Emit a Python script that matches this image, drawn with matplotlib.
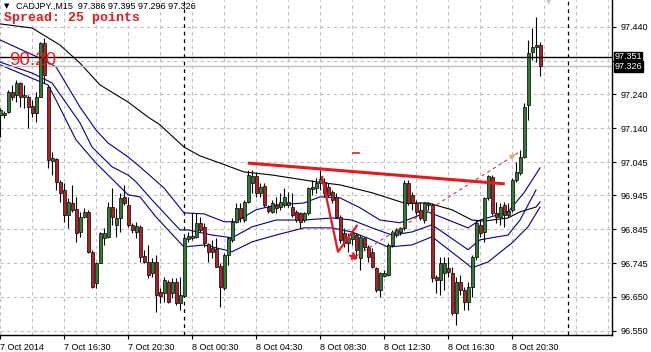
import matplotlib
matplotlib.use("Agg")
import matplotlib.pyplot as plt
from matplotlib import transforms

# CADJPY M15 candles, bar 0 = 7 Oct 2014 12:30
opens = [97.182, 97.188, 97.191, 97.249, 97.241, 97.276, 97.235, 97.235, 97.208, 97.188,
         97.235, 97.393, 97.264, 97.047, 97.053, 96.986, 96.962, 96.889, 96.924, 96.907,
         96.839, 96.883, 96.898, 96.781, 96.690, 96.748, 96.822, 96.825, 96.912, 96.860,
         96.880, 96.942, 96.918, 96.860, 96.839, 96.854, 96.769, 96.751, 96.719, 96.751,
         96.663, 96.660, 96.693, 96.660, 96.693, 96.631, 96.652, 96.819, 96.822, 96.825,
         96.866, 96.854, 96.804, 96.792, 96.789, 96.740, 96.675, 96.772, 96.816, 96.869,
         96.910, 96.874, 96.927, 96.983, 97.003, 96.954, 96.974, 96.912, 96.898, 96.918,
         96.912, 96.918, 96.918, 96.912, 96.898, 96.895, 96.874, 96.895, 96.965, 96.968,
         96.983, 96.986, 96.971, 96.956, 96.942, 96.883, 96.836, 96.807, 96.819, 96.830,
         96.763, 96.822, 96.795, 96.781, 96.734, 96.669, 96.710, 96.713, 96.801, 96.830,
         96.839, 96.851, 96.983, 96.948, 96.924, 96.904, 96.874, 96.918, 96.918, 96.707,
         96.699, 96.719, 96.734, 96.719, 96.602, 96.693, 96.669, 96.634, 96.678, 96.766,
         96.860, 96.839, 96.939, 97.000, 96.895, 96.883, 96.918, 96.889, 96.904, 96.992,
         97.012, 97.059, 97.211, 97.367, 97.381, 97.386]
highs = [97.203, 97.194, 97.255, 97.270, 97.285, 97.279, 97.270, 97.241, 97.226, 97.249,
         97.396, 97.408, 97.270, 97.074, 97.056, 96.992, 96.983, 96.939, 96.977, 96.942,
         96.898, 96.910, 96.904, 96.787, 96.751, 96.839, 96.851, 96.927, 96.968, 96.910,
         96.954, 96.977, 96.942, 96.866, 96.869, 96.860, 96.787, 96.801, 96.763, 96.772,
         96.675, 96.707, 96.699, 96.704, 96.704, 96.707, 96.825, 96.839, 96.895, 96.895,
         96.883, 96.866, 96.807, 96.816, 96.822, 96.748, 96.778, 96.825, 96.880, 96.924,
         96.924, 96.933, 97.021, 97.021, 97.015, 96.983, 96.983, 96.918, 96.933, 96.942,
         96.954, 96.968, 96.956, 96.954, 96.904, 96.898, 96.898, 96.971, 96.992, 96.998,
         97.021, 96.998, 96.983, 96.962, 96.954, 96.889, 96.851, 96.836, 96.845, 96.836,
         96.830, 96.825, 96.801, 96.792, 96.737, 96.722, 96.728, 96.807, 96.845, 96.851,
         96.854, 96.992, 96.992, 96.956, 96.933, 96.927, 96.927, 96.927, 96.924, 96.713,
         96.766, 96.766, 96.766, 96.737, 96.707, 96.713, 96.678, 96.693, 96.772, 96.874,
         96.874, 96.942, 97.006, 97.006, 96.927, 96.924, 96.927, 96.924, 96.998, 97.044,
         97.080, 97.217, 97.402, 97.437, 97.469, 97.395]
lows = [97.118, 97.173, 97.188, 97.226, 97.220, 97.205, 97.203, 97.144, 97.176, 97.162,
        97.235, 97.276, 97.027, 97.006, 96.962, 96.927, 96.869, 96.851, 96.898, 96.810,
        96.825, 96.880, 96.778, 96.675, 96.675, 96.748, 96.801, 96.822, 96.860, 96.825,
        96.839, 96.918, 96.854, 96.836, 96.822, 96.751, 96.748, 96.704, 96.707, 96.605,
        96.631, 96.634, 96.631, 96.646, 96.625, 96.611, 96.649, 96.810, 96.816, 96.822,
        96.839, 96.795, 96.751, 96.763, 96.737, 96.619, 96.669, 96.743, 96.810, 96.866,
        96.869, 96.869, 96.924, 96.954, 96.942, 96.942, 96.912, 96.895, 96.895, 96.895,
        96.904, 96.912, 96.912, 96.883, 96.869, 96.851, 96.869, 96.889, 96.948, 96.954,
        96.962, 96.942, 96.942, 96.924, 96.880, 96.807, 96.795, 96.781, 96.801, 96.763,
        96.728, 96.787, 96.751, 96.734, 96.663, 96.649, 96.707, 96.710, 96.795, 96.825,
        96.830, 96.845, 96.918, 96.904, 96.889, 96.874, 96.866, 96.904, 96.693, 96.660,
        96.655, 96.669, 96.707, 96.596, 96.567, 96.655, 96.611, 96.611, 96.649, 96.757,
        96.825, 96.810, 96.933, 96.889, 96.866, 96.860, 96.854, 96.883, 96.898, 96.986,
        97.006, 97.056, 97.167, 97.343, 97.337, 97.296]
closes = [97.197, 97.182, 97.249, 97.235, 97.276, 97.235, 97.241, 97.205, 97.188, 97.235,
          97.393, 97.299, 97.050, 97.056, 96.986, 96.954, 96.889, 96.927, 96.904, 96.836,
          96.883, 96.898, 96.781, 96.678, 96.748, 96.836, 96.836, 96.912, 96.883, 96.880,
          96.939, 96.924, 96.860, 96.845, 96.857, 96.766, 96.751, 96.713, 96.751, 96.655,
          96.652, 96.699, 96.634, 96.693, 96.631, 96.655, 96.822, 96.827, 96.827, 96.866,
          96.845, 96.807, 96.781, 96.781, 96.737, 96.678, 96.772, 96.822, 96.869, 96.910,
          96.880, 96.927, 97.006, 97.003, 96.954, 96.971, 96.918, 96.901, 96.924, 96.910,
          96.927, 96.942, 96.927, 96.889, 96.874, 96.869, 96.895, 96.968, 96.971, 96.983,
          96.995, 96.954, 96.948, 96.933, 96.883, 96.816, 96.807, 96.822, 96.836, 96.787,
          96.825, 96.795, 96.766, 96.737, 96.669, 96.719, 96.719, 96.801, 96.839, 96.845,
          96.851, 96.983, 96.924, 96.924, 96.898, 96.880, 96.924, 96.924, 96.704, 96.699,
          96.748, 96.748, 96.722, 96.602, 96.693, 96.669, 96.634, 96.678, 96.766, 96.866,
          96.836, 96.939, 97.003, 96.895, 96.883, 96.912, 96.889, 96.901, 96.992, 97.015,
          97.059, 97.205, 97.364, 97.381, 97.386, 97.326]

# indicator lines, read as (bar, price)
ma_bars = [0, 8, 15, 20, 25, 32, 37, 40, 46, 50, 55, 61, 68, 79, 85, 93, 101, 107, 113, 118, 121, 127, 130, 134, 135]
ma_vals = [97.449, 97.437, 97.387, 97.334, 97.270, 97.220, 97.176, 97.153, 97.088, 97.062, 97.041, 97.015, 97.006,
           96.986, 96.977, 96.954, 96.924, 96.924, 96.904, 96.874, 96.871, 96.880, 96.898, 96.912, 96.927]
up_bars = [0, 11, 14, 20, 24, 27, 32, 35, 41, 46, 51, 56, 59, 64, 69, 76, 80, 85, 90, 95, 100, 107, 117, 120, 127, 131, 135]
up_vals = [97.402, 97.343, 97.323, 97.205, 97.138, 97.100, 97.059, 97.030, 96.968, 96.895, 96.892, 96.869, 96.869,
           96.904, 96.918, 96.924, 96.942, 96.939, 96.910, 96.874, 96.866, 96.898, 96.851, 96.874, 96.898, 96.954, 97.027]
mid_bars = [0, 8, 13, 20, 23, 28, 32, 34, 38, 45, 47, 53, 58, 63, 69, 76, 83, 88, 93, 98, 103, 108, 117, 120, 127, 130, 134]
mid_vals = [97.337, 97.305, 97.276, 97.159, 97.088, 97.030, 97.006, 96.986, 96.933, 96.845, 96.845, 96.830, 96.822,
            96.854, 96.874, 96.874, 96.880, 96.874, 96.851, 96.830, 96.839, 96.860, 96.787, 96.816, 96.830, 96.874, 96.962]
lo_bars = [0, 12, 14, 19, 24, 29, 32, 35, 39, 46, 51, 56, 58, 63, 69, 76, 83, 88, 93, 97, 103, 108, 118, 122, 128, 132, 135]
lo_vals = [97.329, 97.270, 97.226, 97.109, 97.041, 96.983, 96.948, 96.942, 96.883, 96.795, 96.801, 96.787, 96.781,
           96.810, 96.830, 96.851, 96.851, 96.839, 96.816, 96.795, 96.801, 96.825, 96.734, 96.751, 96.807, 96.854, 96.912]

# drawn objects
trend_bars, trend_vals = [62, 126.2], [97.041, 96.980]
zig_bars, zig_vals = [80.5, 84.5, 89.2], [97.000, 96.781, 96.857]
proj_bars, proj_vals = [89.5, 129.5], [96.772, 97.071]
hline_price = 97.351
bid_price = 97.326
day_seps = [46, 142]

price_ticks = [96.550, 96.649, 96.748, 96.847, 96.946, 97.044, 97.143, 97.242, 97.341, 97.440]
price_labels = ['96.550', '96.650', '96.745', '96.845', '96.945', '97.045', '97.140', '97.240', '', '97.440']
time_ticks = [0, 16, 32, 48, 64, 80, 96, 112, 128]
time_labels = ['7 Oct 2014', '7 Oct 16:30', '7 Oct 20:30', '8 Oct 00:30', '8 Oct 04:30',
               '8 Oct 08:30', '8 Oct 12:30', '8 Oct 16:30', '8 Oct 20:30']

W, H = 651, 352
fig = plt.figure(figsize=(W / 100, H / 100), dpi=100)
fig.patch.set_facecolor('white')
ax = fig.add_axes([0, 17 / H, 612 / W, 335 / H])
ax.set_xlim(0, 153)
ax.set_ylim(96.537, 97.519)

# grid
for gx in range(0, 153, 8):
    ax.axvline(gx, color='#c0c0c0', lw=0.8, ls=(0, (3, 3)), zorder=0)
for gy in price_ticks:
    ax.axhline(gy, color='#c0c0c0', lw=0.8, ls=(0, (3, 3)), zorder=0)
for d in day_seps:
    ax.axvline(d, color='black', lw=0.9, ls=(0, (3, 3)), zorder=1)

# indicators
ax.plot(ma_bars, ma_vals, color='black', lw=0.8, zorder=2)
for bx, by in [(up_bars, up_vals), (mid_bars, mid_vals), (lo_bars, lo_vals)]:
    ax.plot(bx, by, color='#000090', lw=0.8, zorder=2)

# candles
idx = list(range(len(opens)))
ax.vlines(idx, lows, highs, color='black', lw=0.8, zorder=3)
for i in idx:
    o, c = opens[i], closes[i]
    col = '#2e7d32' if c >= o else '#b22222'
    h = max(abs(c - o), 0.0015)
    ax.bar(i, h, bottom=min(o, c), width=0.75, color=col, edgecolor='black', lw=0.5, zorder=4)

# lines drawn by hand on the chart
ax.axhline(bid_price, color='#c0c0c0', lw=1.0, zorder=2)
ax.axhline(hline_price, color='black', lw=1.0, zorder=5)
ax.plot(trend_bars, trend_vals, color='#e8181c', lw=2.2, zorder=6, solid_capstyle='butt')
ax.plot(zig_bars, zig_vals, color='#e8181c', lw=1.6, zorder=6)
ax.plot(proj_bars, proj_vals, color='#e03030', lw=0.8, ls=(0, (3, 3)), zorder=6)
ax.annotate('', xy=(proj_bars[1], proj_vals[1]), xytext=(proj_bars[1] - 1.5, proj_vals[1] - 0.011),
            arrowprops=dict(arrowstyle='-|>', color='#d9b063', lw=0.5, mutation_scale=9), zorder=7)
ax.plot([proj_bars[0] - 1.2], [proj_vals[0] - 0.004], marker='*', color='#e8181c', ms=6, zorder=7)
ax.plot([88.3, 89.8], [97.071, 97.071], color='#e8181c', lw=1.2, zorder=6)

ax.text(2.4, 97.343, '90.20', color='#e8201c', fontsize=13.5, family='Liberation Sans',
        va='center', ha='left', zorder=8)

# axes styling
for s in ['left', 'top']:
    ax.spines[s].set_visible(False)
for s in ['right', 'bottom']:
    ax.spines[s].set_color('black')
    ax.spines[s].set_linewidth(1.0)
ax.yaxis.tick_right()
ax.set_yticks(price_ticks)
ax.set_yticklabels(price_labels)
ax.set_xticks(time_ticks)
ax.set_xticklabels(time_labels, ha='left')
ax.tick_params(axis='y', length=3, width=0.8, pad=3, labelsize=6.5, colors='black')
ax.tick_params(axis='x', length=3, width=0.8, pad=3, labelsize=6.5, colors='black')
for lab in ax.get_xticklabels() + ax.get_yticklabels():
    lab.set_family('Liberation Sans')

# price boxes on the right scale, stacked as in the terminal
tr = transforms.blended_transform_factory(ax.transAxes, ax.transData)
for p, txt in [(hline_price + 0.002, '97.351'), (bid_price - 0.002, '97.326')]:
    ax.text(1.004, p, txt, transform=tr, color='white', fontsize=6.5, family='Liberation Sans',
            va='center', ha='left', zorder=9, clip_on=False,
            bbox=dict(boxstyle='square,pad=0.06', fc='black', ec='black'))

# header texts
fig.text(4 / W, 1 - 6 / H, '\u25bc', fontsize=5, family='DejaVu Sans', va='center', ha='left')
fig.text(16 / W, 1 - 6 / H, 'CADJPY.,M15  97.386 97.395 97.296 97.326', fontsize=6.5,
         family='Liberation Sans', va='center', ha='left')
fig.text(4 / W, 1 - 18 / H, 'Spread: 25 points', fontsize=9.5, family='Liberation Mono',
         weight='bold', color='#e8181c', va='center', ha='left')
fig.text(549 / W, 1 - 2 / H, '\u25bc', fontsize=5, color='#c8c8c8', va='center', ha='center')

fig.savefig('out.png', dpi=100)
